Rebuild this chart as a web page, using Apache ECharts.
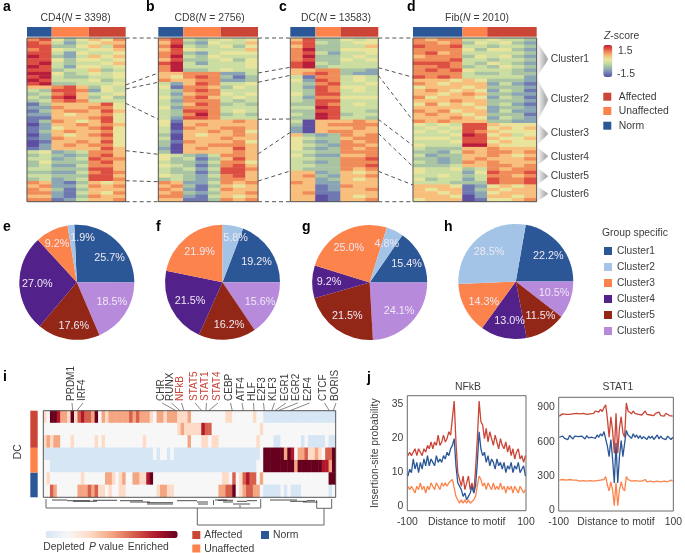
<!DOCTYPE html>
<html><head><meta charset="utf-8">
<style>html,body{margin:0;padding:0;background:#fff}#c{width:685px;height:553px}</style>
<script src="https://cdn.jsdelivr.net/npm/echarts@6/dist/echarts.min.js"></script>
</head><body><div id="c"></div>
<script>
// ---------- values ----------
const clusterNames=['Cluster1','Cluster2','Cluster3','Cluster4','Cluster5','Cluster6'];
const groupNames=['Norm','Unaffected','Affected'];
const heatTitles=['CD4','CD8','DC','Fib'];
const heatCounts=[3398,2756,13583,2010];
// columns per group, in the order Norm, Unaffected, Affected
const columnsCD4=[2,3,3], columnsCD8=[2,3,3], columnsDC=[2,2,3], columnsFib=[4,2,4];
// expression level per row and column, 0 (z = -1.5) to 9 (z = 1.5)
const levelsCD4=[
[7,8,5,3,5,6,5,7],[8,7,4,2,4,5,6,6],[8,8,3,3,5,6,4,7],[7,8,5,4,4,5,5,6],[8,8,4,2,5,4,4,5],[9,8,3,2,4,6,5,6],[8,8,5,3,5,5,4,5],[8,9,4,3,4,4,5,6],[9,8,4,2,5,5,4,5],[8,8,3,4,4,6,3,4],[9,9,5,3,4,5,4,5],[8,9,4,3,3,4,4,5],[9,8,4,4,4,5,3,4],[8,9,3,3,4,4,4,5],
[6,6,7,8,6,3,5,4],[4,3,8,8,7,2,5,4],[3,4,7,8,6,4,4,5],[4,3,8,9,6,3,5,3],[3,4,7,8,7,4,4,4],
[1,3,6,6,6,6,8,5],[2,2,7,6,6,7,7,5],[1,3,6,7,7,6,8,6],[2,2,6,5,6,6,7,5],[1,1,6,6,6,7,8,5],[1,3,7,6,5,6,8,5],[0,2,6,6,7,6,7,6],[1,2,5,6,6,7,8,5],[1,3,6,7,6,6,7,5],[0,2,6,5,6,7,8,5],[1,2,7,6,6,6,7,5],[0,1,6,6,7,6,8,5],[0,2,6,7,6,7,7,5],[1,2,6,6,6,6,8,6],
[4,5,2,3,4,7,7,6],[3,4,3,2,3,7,8,6],[4,4,2,3,4,8,7,7],[3,5,3,3,3,7,8,6],[3,4,2,2,4,7,7,6],[4,4,3,3,3,8,8,6],[3,3,2,2,4,7,8,7],[4,4,3,3,3,8,8,6],[3,4,2,3,4,8,8,7],
[7,6,2,1,3,6,5,6],[6,7,2,2,4,7,6,7],[7,6,3,1,3,6,6,6],[7,7,2,1,4,6,5,7],[6,6,2,1,3,7,6,6],[7,7,1,2,4,6,6,7]];
const levelsCD8=[
[7,8,4,3,4,5,4,5],[6,8,3,2,5,4,4,6],[7,9,4,3,4,5,3,5],[6,8,5,4,4,4,4,6],[7,8,3,2,4,5,5,5],[7,9,4,3,5,4,4,4],[6,8,3,3,4,5,3,5],[8,9,4,2,4,4,4,5],[7,9,4,4,4,4,4,5],[7,9,3,3,4,5,4,4],
[6,6,7,7,7,2,2,4],[6,5,7,8,7,3,1,3],[7,6,6,7,7,2,2,3],
[4,2,6,8,7,4,4,5],[5,1,7,7,6,3,5,4],[4,3,7,8,7,4,4,4],[4,2,6,7,7,5,4,5],[5,3,7,8,6,4,5,4],[4,2,7,7,7,4,3,4],[4,3,6,8,7,3,4,3],[5,2,7,7,7,4,4,4],[4,3,8,8,7,4,5,4],[4,3,7,9,7,3,4,3],[4,2,8,8,7,4,4,4],
[5,1,6,6,6,6,7,6],[5,0,6,7,6,6,6,6],[4,0,7,6,6,7,7,6],[4,1,6,6,7,6,7,5],[3,0,6,5,6,6,7,6],[4,0,6,6,6,7,6,6],[3,1,7,6,6,6,7,5],[3,0,6,6,7,7,7,6],[2,0,6,7,6,6,8,6],[3,0,6,6,6,6,7,6],
[5,4,3,2,4,7,7,6],[5,3,4,1,3,6,8,6],[4,3,3,2,4,7,7,5],[5,4,3,1,3,7,8,6],[4,3,4,2,4,8,8,7],[4,3,3,1,3,8,8,6],[5,4,3,2,4,7,8,6],[3,4,3,2,3,7,7,6],
[7,6,2,2,4,7,6,7],[6,7,3,1,3,6,5,6],[7,6,2,1,4,7,6,6],[6,7,3,2,3,6,6,7],[7,7,2,1,4,6,5,6],[6,6,1,1,3,7,6,7]];
const levelsDC=[
[6,8,3,3,5,4,5],[7,8,4,3,4,5,5],[6,8,3,3,4,4,6],[7,9,3,3,5,5,5],[7,8,4,2,4,4,5],[7,9,3,3,4,5,4],[7,8,3,3,5,4,5],[8,9,4,3,4,4,4],[8,9,3,4,4,4,4],
[6,6,7,7,3,3,2],[6,7,8,7,3,2,2],
[4,1,7,7,4,5,4],[5,2,8,7,4,5,4],[4,3,7,8,4,4,5],[4,2,8,7,5,5,4],[4,3,8,7,4,5,4],[5,3,8,8,4,4,4],[4,2,7,7,5,5,5],[4,3,8,8,4,4,4],[3,3,8,7,4,5,4],[4,4,9,8,4,4,4],[3,3,8,8,4,4,3],[4,3,9,8,3,4,4],[3,3,9,8,4,4,3],
[4,0,6,6,6,7,6],[3,0,6,7,7,7,7],[2,0,6,6,6,7,6],[2,0,6,7,7,6,6],
[6,3,2,3,7,6,7],[5,4,3,3,6,7,7],[5,3,2,3,7,6,7],[5,4,3,2,7,7,6],[5,3,2,3,7,6,7],[4,4,3,3,7,7,7],[5,3,2,2,6,6,7],[4,4,3,3,7,7,8],[4,3,2,3,7,7,7],[4,4,3,3,7,7,8],[4,3,3,3,7,6,7],
[6,6,2,3,6,5,6],[6,7,3,2,6,6,7],[6,6,2,3,6,5,6],[7,6,2,2,6,6,6],[6,6,1,2,7,6,6],[6,6,1,2,6,6,7],[6,7,1,1,6,6,6],[6,6,0,1,6,5,6],[6,6,0,1,6,6,7]];
const levelsFib=[
[7,6,7,7,4,4,5,4,4,3],[7,7,6,7,3,5,4,5,3,2],[8,7,7,8,4,4,3,4,4,3],[7,7,7,7,5,3,5,5,3,2],[7,8,6,7,4,4,4,4,4,3],[6,7,7,7,3,5,4,5,3,2],[7,7,7,8,4,4,3,4,4,3],[8,8,8,7,4,3,5,4,3,2],[7,7,8,7,3,4,3,5,4,3],[7,8,7,8,5,4,4,4,3,2],[7,7,7,7,4,3,3,4,3,3],[8,7,8,7,4,4,4,4,4,2],
[6,6,6,5,6,5,3,3,3,2],[7,6,5,6,6,6,2,4,2,1],[5,6,6,6,5,6,3,3,3,2],[6,7,6,5,6,5,2,4,3,1],[6,6,5,6,7,6,3,3,2,2],[7,5,6,6,6,5,2,4,3,1],[6,6,6,7,6,6,3,3,3,2],[5,7,5,6,5,6,3,4,2,1],[6,6,6,6,6,5,2,3,3,2],[7,6,7,5,6,6,2,4,2,2],[6,7,6,6,5,6,3,3,3,1],[6,6,6,7,6,5,2,4,3,2],[7,6,7,6,6,6,3,3,2,2],
[5,4,5,4,8,8,6,5,5,5],[4,5,4,5,8,8,5,6,5,6],[5,4,5,4,8,7,6,5,5,5],[4,4,4,5,9,8,5,6,4,5],[5,5,5,4,8,8,6,5,5,6],[4,4,4,5,8,8,5,6,5,5],[5,4,4,4,9,9,6,5,5,5],
[4,3,3,3,6,6,7,6,6,6],[3,3,2,4,7,6,7,7,6,7],[4,2,3,3,6,6,7,6,5,6],[3,3,2,3,6,7,6,6,6,7],[4,3,2,3,7,6,7,6,6,6],[3,3,3,4,6,6,7,7,6,7],
[5,4,4,5,3,4,7,6,7,7],[5,4,4,4,2,5,8,7,7,8],[4,4,5,4,3,4,7,7,6,7],[5,3,4,4,2,4,8,7,7,8],[4,4,4,3,3,3,8,7,7,8],
[6,6,6,5,1,2,5,6,5,6],[6,5,6,6,1,3,6,5,6,6],[6,6,5,6,1,2,5,6,6,6],[6,6,6,5,0,2,6,6,5,6],[5,6,6,6,0,1,5,5,6,7]];
// pie shares in percent, clockwise order Cluster 1, 6, 5, 4, 3, 2
const pieOrder=['Cluster1','Cluster6','Cluster5','Cluster4','Cluster3','Cluster2'];
const pieCD4=[25.7,18.5,17.6,27.0,9.2,1.9];
const pieCD8=[19.2,15.6,16.2,21.5,21.9,5.8];
const pieDC=[15.4,24.1,21.5,9.2,25.0,4.8];
const pieFib=[22.2,10.5,11.5,13.0,14.3,28.5];
// motif enrichment, 0 depleted, 1 neutral, 2..6 enriched; 85 motifs
const motifRow1=[2,1,6,6,5,3,3,2,6,2,4,5,4,4,3,6,1,3,2,3,3,3,3,3,3,4,3,4,3,3,3,2,1,3,3,2,3,3,3,2,2,2,3,1,1,1,1,1,1,1,1,1,1,2,2,1,1,1,1,1,1,2,1,1,0,0,0,0,0,0,0,0,0,0,0,0,0,0,0,0,0,0,0,0,0];
const motifRow2=[1,1,1,1,1,1,1,1,1,1,1,1,1,1,1,1,1,1,1,1,1,1,1,1,1,1,1,1,1,1,1,1,1,1,1,1,1,1,1,2,3,2,2,2,2,2,5,4,4,1,1,1,1,1,1,1,1,1,1,1,1,1,1,2,1,1,1,1,1,1,1,1,1,1,1,1,1,1,1,1,1,1,1,1,1];
const motifRow3=[2,3,2,3,3,1,1,1,2,1,1,1,1,1,1,2,1,2,1,1,1,1,1,1,1,1,1,1,1,2,1,1,1,1,1,1,1,1,1,1,1,1,3,1,1,1,2,2,1,2,2,1,1,1,1,1,1,1,1,1,1,1,2,1,1,1,1,0,0,1,1,1,1,1,1,0,1,0,0,0,0,0,1,0,0];
const motifRow4=[0,0,0,0,0,0,0,0,0,0,0,0,0,0,0,0,0,0,0,0,0,0,0,0,0,0,0,0,0,0,0,0,1,0,1,1,0,1,0,0,0,0,0,0,0,0,0,0,0,0,0,0,0,0,0,0,0,0,0,0,0,0,0,1,6,6,6,6,6,6,3,6,5,1,3,3,4,2,2,3,2,1,4,4,6];
const motifRow5=[1,1,0,0,0,0,0,0,0,0,0,0,0,0,0,0,0,0,0,0,0,0,0,0,0,0,0,0,0,0,0,0,0,0,0,0,0,0,0,0,0,0,0,0,0,0,0,0,0,0,0,0,0,0,0,0,0,0,0,0,0,0,1,1,6,6,6,6,6,6,6,6,6,3,6,6,6,6,6,6,6,5,5,3,6];
const motifRow6=[1,2,1,1,1,1,1,1,1,1,1,2,1,1,1,1,1,1,3,3,2,1,2,3,1,1,3,3,2,2,5,6,1,1,1,1,1,1,1,1,1,1,1,1,1,1,1,1,1,1,1,1,2,2,1,4,1,2,4,5,4,4,1,3,1,1,1,1,1,1,1,1,1,1,1,1,1,1,1,1,1,1,1,6,6];
const motifRow7=[1,1,4,3,1,1,1,1,1,1,3,3,3,4,3,4,2,2,1,2,1,1,2,2,1,1,1,1,1,1,1,1,1,2,3,3,2,2,1,1,1,1,1,1,1,1,1,1,1,1,1,3,3,4,4,6,1,2,3,4,4,3,3,1,0,0,0,0,0,1,0,1,0,0,0,1,1,1,1,1,1,1,1,0,1];
const motifGroupRows=[2,2,3]; // Norm, Unaffected, Affected rows, bottom to top
const motifNames=['PRDM1','IRF4','CHR','RUNX','NFkB','STAT5','STAT1','STAT4','CEBP','ATF4','HLF','E2F3','KLF3','EGR1','EGR2','E2F4','CTCF','BORIS'];
const motifRed=['NFkB','STAT5','STAT1','STAT4'];
// footprints
const motifDistance=[-99,-96,-93,-90,-87,-84,-81,-78,-75,-72,-69,-66,-63,-60,-57,-54,-51,-48,-45,-42,-39,-36,-33,-30,-27,-24,-21,-18,-15,-12,-9,-6,-3,0,3,6,9,12,15,18,21,24,27,30,33,36,39,42,45,48,51,54,57,60,63,66,69,72,75,78,81,84,87,90,93,96,99];
const nfkbAffected=[15,16,15,16,17,15,17,16,15,17,16,18,17,19,17,19,18,21,18,19,21,19,20,22,21,26,31,19,10,8,6,9,5,7,9,5,7,4,11,20,31,25,24,20,23,19,22,20,18,21,19,17,20,18,17,19,16,18,15,17,14,16,17,14,15,13,15];
const nfkbNorm=[9,11,10,14,11,13,10,13,11,14,12,15,12,14,13,12,15,13,14,13,15,14,16,15,17,18,20,12,7,6,5,3,4,2,3,4,6,4,6,13,22,17,15,16,13,15,12,14,13,11,14,12,13,11,13,10,12,11,13,10,12,11,13,10,11,12,9];
const nfkbUnaffected=[6,5,6,5,4,6,5,7,5,6,4,6,5,7,6,5,7,6,5,7,6,7,6,7,7,8,8,3,2,1,2,1,2,1,2,1,1,2,3,6,9,8,6,7,5,7,6,5,7,5,6,5,7,5,6,4,6,5,6,4,6,5,4,6,5,4,5];
const stat1Affected=[825,835,845,835,840,850,840,835,845,840,850,835,845,830,850,860,840,855,845,835,850,870,855,860,885,865,900,925,800,640,820,700,500,850,500,720,820,680,640,940,870,860,845,870,850,860,840,855,835,850,870,840,855,835,845,830,850,835,860,830,845,825,850,840,830,845,825];
const stat1Norm=[640,625,650,630,645,620,655,640,625,650,635,645,630,650,640,625,655,635,650,640,645,630,660,640,670,650,690,700,560,470,620,450,240,590,240,470,610,470,480,700,660,650,630,670,640,660,630,655,625,645,660,620,650,630,650,620,640,660,625,650,630,645,620,650,635,620,640];
const stat1Unaffected=[265,255,270,260,265,255,270,260,265,255,265,270,255,265,260,270,255,270,260,265,255,270,260,275,265,280,270,295,220,170,250,180,40,240,40,180,250,190,170,295,270,265,255,270,260,265,255,270,255,265,270,250,265,255,265,250,265,255,270,250,265,255,265,250,260,265,255];
const nfkbTicks=[0,10,20,30], nfkbTickLabels=['0','10','20','35'];
const stat1Ticks=[0,300,600,900];

// ---------- styles and layout ----------
const FONT='"Liberation Sans",Arial,sans-serif', INK='#3c3c3c';
const RED='#CB4536', ORANGE='#FC834B', BLUE='#2B5797';
const GROUP_COLOR={Norm:BLUE,Unaffected:ORANGE,Affected:RED};
const CLUSTER_COLOR={Cluster1:'#2B5797',Cluster2:'#A3C4E6',Cluster3:'#FC834B',Cluster4:'#52218A',Cluster5:'#932717',Cluster6:'#B78ADB'};
const heatLeft=[27,158.3,290.3,413], heatWidth=[98.7,99.7,88,123.7];
const heatTop=38, heatH=163.7, stripTop=27, stripH=9.7;
const heatCols=[columnsCD4,columnsCD8,columnsDC,columnsFib];
const heatData=[levelsCD4,levelsCD8,levelsDC,levelsFib];
const titleX=[75.7,209.7,336,477];
const pieCenter=[[76.8,282.3],[222.5,282.3],[369.7,282.5],[515.8,281.5]], pieR=57.5;
const pieData=[pieCD4,pieCD8,pieDC,pieFib];
const pieStart=[92.5,69,55.4,80];
// label centres of the pie slices, page pixels
const pieLabelAt=[
 [[109.6,258.3],[111.8,302.3],[73.7,325.7],[37.3,284.3],[57,244.3],[82.5,237.7]],
 [[256.6,261.7],[260,301.7],[229,325],[190,301],[199.6,251.7],[235.5,238.3]],
 [[406.6,264.3],[399,311],[347.4,316],[329,281.7],[348.7,248.3],[386.8,244.3]],
 [[548.2,255.7],[554,292.7],[540.4,315.7],[509.6,320.7],[483.8,301.7],[489,251.7]]];
const iBox={l:43.3,t:410.7,w:292.4,h:86.6};
const jA={l:407.3,t:395.7,w:118.7,h:115}, jB={l:558.7,t:397.3,w:117.6,h:113.7};

const grids=[],xAxes=[],yAxes=[],series=[];
function addGrid(g,x,y){grids.push(g);x.gridIndex=grids.length-1;y.gridIndex=grids.length-1;xAxes.push(x);yAxes.push(y);return grids.length-1;}
const hidden={show:false};
const heatSeriesIdx=[];
heatData.forEach((m,p)=>{
  const n=m[0].length;
  const gi=addGrid({left:heatLeft[p],top:heatTop,width:heatWidth[p],height:heatH},
    {type:'category',data:m[0].map((_,i)=>i),...hidden},
    {type:'category',data:m.map((_,i)=>i),inverse:true,...hidden});
  const d=[];m.forEach((r,ry)=>r.forEach((v,cx)=>d.push([cx,ry,v])));
  heatSeriesIdx.push(series.length);
  series.push({type:'heatmap',name:heatTitles[p],xAxisIndex:gi,yAxisIndex:gi,data:d,silent:true,progressive:0});
  const gs=addGrid({left:heatLeft[p],top:stripTop,width:heatWidth[p],height:stripH},
    {type:'value',min:0,max:n,...hidden},{type:'category',data:['group'],...hidden});
  groupNames.forEach((g,i)=>series.push({type:'bar',name:g,stack:'s'+p,xAxisIndex:gs,yAxisIndex:gs,barWidth:'100%',data:[heatCols[p][i]],itemStyle:{color:GROUP_COLOR[g]},silent:true}));
});
pieData.forEach((vals,p)=>{
  series.push({type:'pie',center:pieCenter[p],radius:[0,pieR],startAngle:pieStart[p],avoidLabelOverlap:false,silent:true,itemStyle:{borderWidth:0},
    data:vals.map((v,i)=>({name:pieOrder[i],value:v,itemStyle:{color:CLUSTER_COLOR[pieOrder[i]]}})),
    labelLine:{show:false},
    label:{show:true,position:'inside',color:'#EFE8F4',fontFamily:FONT,fontSize:10.8,formatter:q=>q.value.toFixed(1)+'%'},
    labelLayout:q=>({x:pieLabelAt[p][q.dataIndex][0],y:pieLabelAt[p][q.dataIndex][1],align:'center',verticalAlign:'middle'})});
});
// panel i
const motifRows=[motifRow1,motifRow2,motifRow3,motifRow4,motifRow5,motifRow6,motifRow7];
const gi=addGrid({left:iBox.l,top:iBox.t,width:iBox.w,height:iBox.h},
  {type:'category',data:motifRow1.map((_,i)=>i),...hidden},
  {type:'category',data:motifRows.map((_,i)=>i),inverse:true,...hidden});
const iData=[];motifRows.forEach((r,ry)=>r.forEach((v,cx)=>iData.push([cx,ry,v])));
const iSeries=series.length;
series.push({type:'heatmap',name:'DC motifs',xAxisIndex:gi,yAxisIndex:gi,data:iData,silent:true,progressive:0});
const gl=addGrid({left:30.3,top:iBox.t,width:7.4,height:iBox.h},{type:'category',data:['DC'],...hidden},{type:'value',min:0,max:7,...hidden});
groupNames.forEach((g,i)=>series.push({type:'bar',name:g,stack:'dc',xAxisIndex:gl,yAxisIndex:gl,barWidth:'100%',data:[motifGroupRows[i]],itemStyle:{color:GROUP_COLOR[g]},silent:true}));
// panel j
function footprint(box,ymin,ymax,ticks,labels,sets,yName){
  const g=addGrid({left:box.l,top:box.t,width:box.w,height:box.h,show:true,borderColor:'#6a6a6a',borderWidth:1},
   {type:'value',min:-100,max:100,splitLine:{show:false},axisLine:{show:false},axisTick:{show:false},
    axisLabel:{customValues:[-100,100],color:INK,fontFamily:FONT,fontSize:10.4,margin:6},
    name:'Distance to motif',nameLocation:'middle',nameGap:6,nameMoveOverlap:false,
    nameTextStyle:{color:INK,fontFamily:FONT,fontSize:10.4,verticalAlign:'top'}},
   {type:'value',min:ymin,max:ymax,splitLine:{show:false},axisLine:{show:false},axisTick:{show:false},
    axisLabel:{customValues:ticks,color:INK,fontFamily:FONT,fontSize:10.4,margin:4,formatter:v=>labels[ticks.indexOf(v)]},
    name:yName||'',nameLocation:'middle',nameGap:27,nameMoveOverlap:false,nameTextStyle:{color:INK,fontFamily:FONT,fontSize:10.4}});
  sets.forEach(([nm,vals,col])=>series.push({type:'line',name:nm,xAxisIndex:g,yAxisIndex:g,showSymbol:false,silent:true,
    lineStyle:{color:col,width:1.3},data:vals.map((v,i)=>[motifDistance[i],v])}));
}
footprint(jA,-1.2,32.6,nfkbTicks,nfkbTickLabels,[['Unaffected',nfkbUnaffected,ORANGE],['Affected',nfkbAffected,RED],['Norm',nfkbNorm,BLUE]],'Insertion-site probability');
footprint(jB,-6,990,stat1Ticks,stat1Ticks.map(String),[['Unaffected',stat1Unaffected,ORANGE],['Affected',stat1Affected,RED],['Norm',stat1Norm,BLUE]]);

// ---------- annotation layer ----------
const G=[];
function T(x,y,text,o={}){G.push({type:'text',x,y,rotation:o.rot||0,z:100,silent:true,style:{text,fill:o.color||INK,font:`${o.bold?'bold ':''}${o.size||10.4}px ${FONT}`,align:o.align||'left',verticalAlign:'middle',rich:o.rich}});}
const italic={i:{fontFamily:FONT,fontStyle:'italic',fontSize:10.4,fill:INK,color:INK}};
function L(x1,y1,x2,y2,o={}){G.push({type:'line',silent:true,z:100,shape:{x1,y1,x2,y2},style:{stroke:o.color||'#444',lineWidth:o.w||1,lineDash:o.dash}});}
function S(x,y,col,w=8,h=8){G.push({type:'rect',silent:true,z:100,shape:{x,y,width:w,height:h},style:{fill:col}});}
[['a',3,7],['b',146,7],['c',279,7],['d',407,7],['e',3,227],['f',156,227],['g',302,227],['h',444,227],['i',3,377],['j',367,378]].forEach(([s,x,y])=>T(x,y,s,{bold:true,size:14,color:'#000'}));
heatTitles.forEach((t,i)=>T(titleX[i],17.7,`${t}({i|N} = ${heatCounts[i]})`,{align:'center',rich:italic}));
heatLeft.forEach((x,i)=>G.push({type:'rect',silent:true,z:100,shape:{x,y:heatTop,width:heatWidth[i],height:heatH},style:{fill:'none',stroke:'#555',lineWidth:1}}));
// dashed connectors: [x1,y1,x2,y2]
const dash=[4,3];
[[125.7,38,158.3,38],[125.7,85,158.3,73],[125.7,89,158.3,82.3],[125.7,103.3,158.3,119.3],[125.7,150.7,158.3,154.3],[125.7,180.7,158.3,181.7],[125.7,201.7,158.3,201.7],
 [258,38,290.3,38],[258,73,290.3,67.3],[258,82.3,290.3,75.3],[258,119.3,290.3,119],[258,154,290.3,132.3],[258,181,290.3,171],[258,201.7,290.3,201.7],
 [378.3,38,413,38],[378.3,67.7,413,77.3],[378.3,75.3,413,120.7],[378.3,119.3,413,145.7],[378.3,133.3,413,166.7],[378.3,171.3,413,185],[378.3,201.7,413,201.7]]
 .forEach(c=>L(c[0],c[1],c[2],c[3],{dash,color:'#555'}));
// chevrons beside panel d
const chevGrad=new echarts.graphic.LinearGradient(0,0,1,0,[{offset:0,color:'#F4F4F4'},{offset:0.75,color:'#ABABAB'},{offset:1,color:'#C4C4C4'}]);
[[43.3,75],[80,120],[123.3,144],[147.7,165],[168.3,184.3],[186.7,201]].forEach(([a,b],i)=>{
  G.push({type:'polygon',silent:true,z:100,shape:{points:[[538,a],[548.5,(a+b)/2],[538,b]]},style:{fill:chevGrad}});
});
clusterNames.forEach((c,i)=>T(550.7,[59,99,133.3,156.7,176,194][i],c,{size:10.3}));
// z-score legend
T(604,36,'{i|Z}-score',{rich:italic});T(618,51,'1.5');T(617,74,'-1.5');
['Affected','Unaffected','Norm'].forEach((g,i)=>{const y=[96.7,111,125.7][i];S(603.3,y-4,GROUP_COLOR[g]);T(618.7,y,g);});
T(602,233,'Group specific',{size:10.3});
// panel i text
G.push({type:'rect',silent:true,z:100,shape:{x:iBox.l,y:iBox.t,width:iBox.w,height:iBox.h},style:{fill:'none',stroke:'#555',lineWidth:1}});
T(18.3,451.7,'DC',{rot:Math.PI/2,align:'center'});
const motifX=[71,82,161,170.5,180.5,194,205.5,217,229.5,241,252.5,262.5,273.5,285,296.7,308.5,323.5,335];
const motifTo=[72.7,76.7,176,180,184,201.7,206,208.7,232.3,243.3,254,264.3,271.7,275,278.3,290,329.3,333.3];
motifNames.forEach((n,i)=>{
  T(motifX[i],401,n,{rot:Math.PI/2,size:10,color:motifRed.includes(n)?'#C8433A':INK});
  L(motifX[i]+1,403,motifTo[i],iBox.t,{color:'#555',w:0.7});
});
// dendrogram
const DG='#666';
L(46,499,46,508,{color:DG});L(260.7,499,260.7,508,{color:DG});L(46,508,260.7,508,{color:DG});
L(197.3,508,197.3,525,{color:DG});L(324,508.3,324,525,{color:DG});L(197.3,525,324,525,{color:DG});
L(316.7,500,316.7,508.3,{color:DG});L(331.7,499,331.7,508.3,{color:DG});L(316.7,508.3,331.7,508.3,{color:DG});
[[52,67,500],[67,90,500.7],[73,97,501.3],[93,117,500.3],[120,143,500.7],[130,150,502],[147,173,504],[147,173,502.7],[177,197,500.7],[197,208,502],[198,208,504],[215,227,500],[218,233,500.3],[223,233,502],[237,247,501.3],[233,250,504],[247,257,500.7],[270,297,500],[290,307,501.3],[303,317,502],[307,315,500.7]]
 .forEach(s=>L(s[0],s[2],s[1],s[2],{color:'#222',w:0.8}));
L(213.5,500,213.5,505,{color:DG});L(240,505,240,508,{color:DG});
// panel i legend
T(43.3,547.3,'Depleted');T(89,547.3,'{i|P} value',{rich:italic});T(127.7,547.3,'Enriched');
S(192.3,531,RED);T(204.3,535,'Affected');S(261,531,BLUE);T(273,535,'Norm');S(192.3,544.5,ORANGE);T(204.3,549,'Unaffected');
T(468,387,'NFkB',{align:'center'});T(618,387,'STAT1',{align:'center'});

const option={animation:false,backgroundColor:'#fff',
  grid:grids,xAxis:xAxes,yAxis:yAxes,series,
  legend:{data:clusterNames,orient:'vertical',left:604,top:246,padding:0,itemWidth:8,itemHeight:8,itemGap:6,selectedMode:false,icon:'rect',
    textStyle:{color:INK,fontFamily:FONT,fontSize:10.2}},
  visualMap:[
   {type:'continuous',min:0,max:9,seriesIndex:heatSeriesIdx,left:603.3,top:45,padding:0,itemWidth:9,itemHeight:32,calculable:false,hoverLink:false,text:['',''],
    inRange:{color:['#5E4FA2','#6F78B0','#8AA6B4','#A9C4A3','#CBDDA0','#E9E49C','#F7BE7C','#F08C5A','#DD4F43','#B81E3C']}},
   {type:'continuous',min:0,max:6,seriesIndex:iSeries,orient:'horizontal',left:45.7,top:531,padding:0,itemWidth:7,itemHeight:132,calculable:false,hoverLink:false,text:['',''],
    inRange:{color:['#D6E6F4','#F7F7F7','#FDDBC7','#F4A582','#D6604D','#B2182B','#67001F']}}
  ],
  graphic:{z:100,elements:G}};
const chart=echarts.init(document.getElementById('c'),null,{renderer:'canvas',width:685,height:553});
chart.setOption(option);
</script></body></html>
